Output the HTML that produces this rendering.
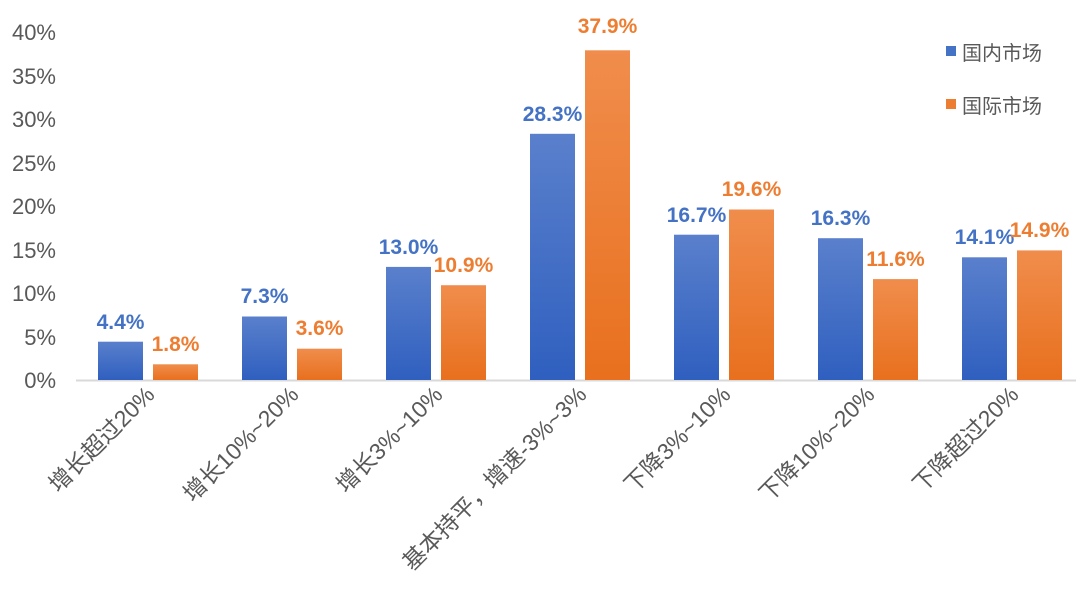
<!DOCTYPE html>
<html><head><meta charset="utf-8"><style>
body{margin:0;background:#fff}
svg{display:block;font-family:"Liberation Sans","Noto Sans CJK SC",sans-serif}
</style></head><body>
<svg width="1080" height="600" viewBox="0 0 1080 600">
<defs>
<linearGradient id="b" x1="0" y1="0" x2="0" y2="1"><stop offset="0" stop-color="#5a80cc"/><stop offset="1" stop-color="#2f5fbf"/></linearGradient>
<linearGradient id="o" x1="0" y1="0" x2="0" y2="1"><stop offset="0" stop-color="#f08d4c"/><stop offset="1" stop-color="#e8701e"/></linearGradient>
</defs>
<g font-size="22" fill="#595959" text-anchor="end">
<text x="56" y="388">0%</text><text x="56" y="345">5%</text><text x="56" y="301">10%</text><text x="56" y="258">15%</text><text x="56" y="214">20%</text><text x="56" y="171">25%</text><text x="56" y="127">30%</text><text x="56" y="84">35%</text><text x="56" y="40">40%</text>
</g>
<line x1="76" y1="380.5" x2="1076" y2="380.5" stroke="#d9d9d9" stroke-width="2"/>
<g fill="url(#b)">
<rect x="98" y="341.7" width="45" height="38.3"/>
<rect x="242" y="316.5" width="45" height="63.5"/>
<rect x="386" y="266.9" width="45" height="113.1"/>
<rect x="530" y="133.8" width="45" height="246.2"/>
<rect x="674" y="234.7" width="45" height="145.3"/>
<rect x="818" y="238.2" width="45" height="141.8"/>
<rect x="962" y="257.3" width="45" height="122.7"/>
</g>
<g fill="url(#o)">
<rect x="153" y="364.3" width="45" height="15.7"/>
<rect x="297" y="348.7" width="45" height="31.3"/>
<rect x="441" y="285.2" width="45" height="94.8"/>
<rect x="585" y="50.3" width="45" height="329.7"/>
<rect x="729" y="209.5" width="45" height="170.5"/>
<rect x="873" y="279.1" width="45" height="100.9"/>
<rect x="1017" y="250.4" width="45" height="129.6"/>
</g>
<g font-size="21" font-weight="bold" fill="#4472c4" text-anchor="middle">
<text x="120.5" y="329">4.4%</text>
<text x="264.5" y="303">7.3%</text>
<text x="408.5" y="254">13.0%</text>
<text x="552.5" y="121">28.3%</text>
<text x="696.5" y="222">16.7%</text>
<text x="840.5" y="225">16.3%</text>
<text x="984.5" y="244">14.1%</text>
</g>
<g font-size="21" font-weight="bold" fill="#ed7d31" text-anchor="middle">
<text x="175.5" y="351">1.8%</text>
<text x="319.5" y="335">3.6%</text>
<text x="463.5" y="272">10.9%</text>
<text x="607.5" y="33">37.9%</text>
<text x="751.5" y="196">19.6%</text>
<text x="895.5" y="266">11.6%</text>
<text x="1039.5" y="237">14.9%</text>
</g>
<g font-size="23" fill="#595959" text-anchor="end">
<text transform="translate(156,396) rotate(-45)">增长超过20%</text>
<text transform="translate(300,396) rotate(-45)">增长10%~20%</text>
<text transform="translate(444,396) rotate(-45)">增长3%~10%</text>
<text transform="translate(588,396) rotate(-45)">基本持平，增速-3%~3%</text>
<text transform="translate(732,396) rotate(-45)">下降3%~10%</text>
<text transform="translate(876,396) rotate(-45)">下降10%~20%</text>
<text transform="translate(1020,396) rotate(-45)">下降超过20%</text>
</g>
<rect x="946" y="46" width="10" height="10" fill="#4472c4"/>
<text x="962" y="60" font-size="20" fill="#595959">国内市场</text>
<rect x="946" y="99" width="10" height="10" fill="#ed7d31"/>
<text x="962" y="113" font-size="20" fill="#595959">国际市场</text>
</svg>
</body></html>
